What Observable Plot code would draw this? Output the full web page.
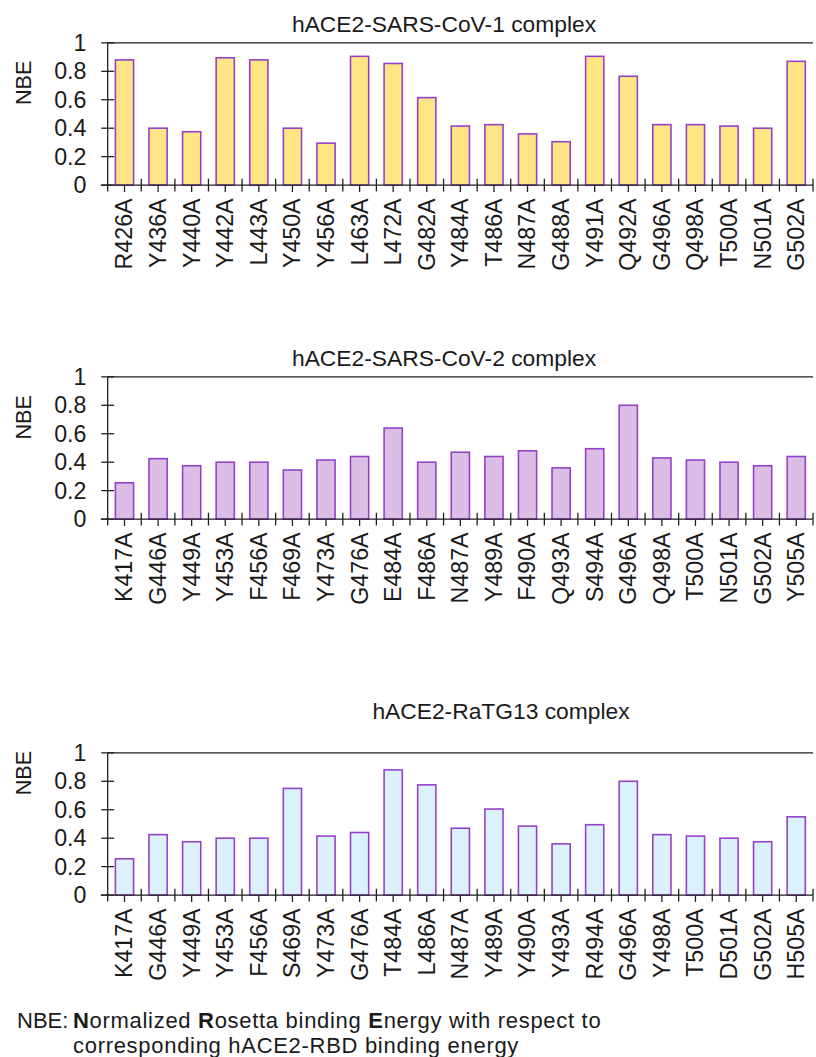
<!DOCTYPE html>
<html><head><meta charset="utf-8">
<script src="https://cdn.jsdelivr.net/npm/d3@7"></script>
<script src="https://cdn.jsdelivr.net/npm/@observablehq/plot@0.6"></script>
<style>
html,body{margin:0;padding:0;background:#fff;overflow:hidden;}
#root{position:relative;width:816px;height:1057px;overflow:hidden;font-family:"Liberation Sans",Arial,Helvetica,sans-serif;color:#1a1a1a;}
.title{position:absolute;width:500px;text-align:center;font-size:22.8px;line-height:22.8px;white-space:nowrap;}
.panel{position:absolute;left:0;}
.foot{position:absolute;left:17px;top:1008px;font-size:22px;line-height:25px;display:flex;white-space:nowrap;}
.foot .k{width:56px;letter-spacing:0;}
.foot .v{letter-spacing:0.7px;}
</style></head><body><div id="root"></div>
<script>
// ---- data ----
const cov1Labels = ["R426A","Y436A","Y440A","Y442A","L443A","Y450A","Y456A","L463A","L472A","G482A","Y484A","T486A","N487A","G488A","Y491A","Q492A","G496A","Q498A","T500A","N501A","G502A"];
const cov1Values = [0.88,0.40,0.375,0.895,0.88,0.40,0.295,0.905,0.855,0.615,0.415,0.425,0.36,0.305,0.905,0.765,0.425,0.425,0.415,0.40,0.87];

const cov2Labels = ["K417A","G446A","Y449A","Y453A","F456A","F469A","Y473A","G476A","E484A","F486A","N487A","Y489A","F490A","Q493A","S494A","G496A","Q498A","T500A","N501A","G502A","Y505A"];
const cov2Values = [0.255,0.425,0.375,0.40,0.40,0.345,0.415,0.44,0.64,0.40,0.47,0.44,0.48,0.36,0.495,0.80,0.43,0.415,0.40,0.375,0.44];

const ratgLabels = ["K417A","G446A","Y449A","Y453A","F456A","S469A","Y473A","G476A","T484A","L486A","N487A","Y489A","Y490A","Y493A","R494A","G496A","Y498A","T500A","D501A","G502A","H505A"];
const ratgValues = [0.255,0.425,0.375,0.40,0.40,0.75,0.415,0.44,0.88,0.775,0.47,0.605,0.485,0.36,0.495,0.80,0.425,0.415,0.40,0.375,0.55];

const yTicks = [0, 0.2, 0.4, 0.6, 0.8, 1];
const titles = ["hACE2-SARS-CoV-1 complex", "hACE2-SARS-CoV-2 complex", "hACE2-RaTG13 complex"];
const axisTitle = "NBE";

const AXIS = "#1f1f1f";
const STROKE = "#9440c9";

const panels = [
  {labels: cov1Labels, values: cov1Values, fill: "#ffe583", title: titles[0], top: 30, titleTop: 13, titleCx: 444, nbeDy: -9.5},
  {labels: cov2Labels, values: cov2Values, fill: "#dcbde5", title: titles[1], top: 364, titleTop: 346.5, titleCx: 444, nbeDy: -9},
  {labels: ratgLabels, values: ratgValues, fill: "#dbf1fc", title: titles[2], top: 739.5, titleTop: 699.5, titleCx: 501, nbeDy: -29.5}
];

function decor(cats) {
  return (index, scales) => {
    const x = scales.x, y = scales.y;
    const step = x(cats[1]) - x(cats[0]);
    const xl = x(cats[0]);
    const xr = x(cats[cats.length - 1]) + step;
    const y0 = y(0), y1 = y(1);
    const g = d3.create("svg:g").attr("stroke", AXIS).attr("stroke-width", 1.3).attr("fill", "none");
    const line = (a, b, c, d) => g.append("line").attr("x1", a).attr("y1", b).attr("x2", c).attr("y2", d);
    line(xl - 7, y0, xr, y0);
    line(xl, y1, xr, y1);
    line(xl, y1, xl, y0 + 6.5);
    for (const t of yTicks) line(xl - 6.5, y(t), xl + 6.5, y(t));
    for (let i = 1; i <= cats.length; i++) {
      const bx = i < cats.length ? x(cats[i]) : xr;
      line(bx, y0 - 6.5, bx, y0 + 6.5);
    }
    for (const c of cats) {
      const cx = x(c) + step / 2;
      line(cx, y0, cx, y0 + 7);
    }
    return g.node();
  };
}

const root = document.getElementById("root");

for (const p of panels) {
  const data = p.labels.map((l, i) => ({label: l, value: p.values[i]}));
  const chart = Plot.plot({
    width: 826,
    height: 247,
    marginLeft: 107,
    marginRight: 1,
    marginTop: 13,
    marginBottom: 90,
    style: {fontFamily: "'Liberation Sans', Arial, Helvetica, sans-serif", color: "#1a1a1a", background: "transparent", overflow: "visible"},
    x: {domain: p.labels, padding: 0, label: null},
    y: {domain: [0, 1], label: null},
    marks: [
      Plot.barY(data, {x: "label", y: "value", fill: p.fill, stroke: STROKE, strokeWidth: 1.6, insetLeft: 7.8, insetRight: 7.8}),
      decor(p.labels),
      Plot.axisY({ticks: yTicks, tickSize: 0, tickPadding: 20, fontSize: 23.5, tickFormat: d => String(d), label: null}),
      Plot.axisX({tickSize: 0, tickPadding: 13, tickRotate: -90, fontSize: 23.5, label: null}),
      Plot.text([axisTitle], {frameAnchor: "left", dx: -83.5, dy: p.nbeDy, rotate: -90, fontSize: 22, text: d => d, fill: "#1a1a1a"})
    ]
  });
  chart.classList.add("panel");
  chart.style.top = p.top + "px";
  root.appendChild(chart);

  const t = document.createElement("div");
  t.className = "title";
  t.textContent = p.title;
  t.style.left = (p.titleCx - 250) + "px";
  t.style.top = p.titleTop + "px";
  root.appendChild(t);
}

const foot = document.createElement("div");
foot.className = "foot";
foot.innerHTML = '<div class="k">NBE:</div><div class="v"><b>N</b>ormalized <b>R</b>osetta binding <b>E</b>nergy with respect to<br>corresponding hACE2-RBD binding energy</div>';
root.appendChild(foot);
</script>
</body></html>
